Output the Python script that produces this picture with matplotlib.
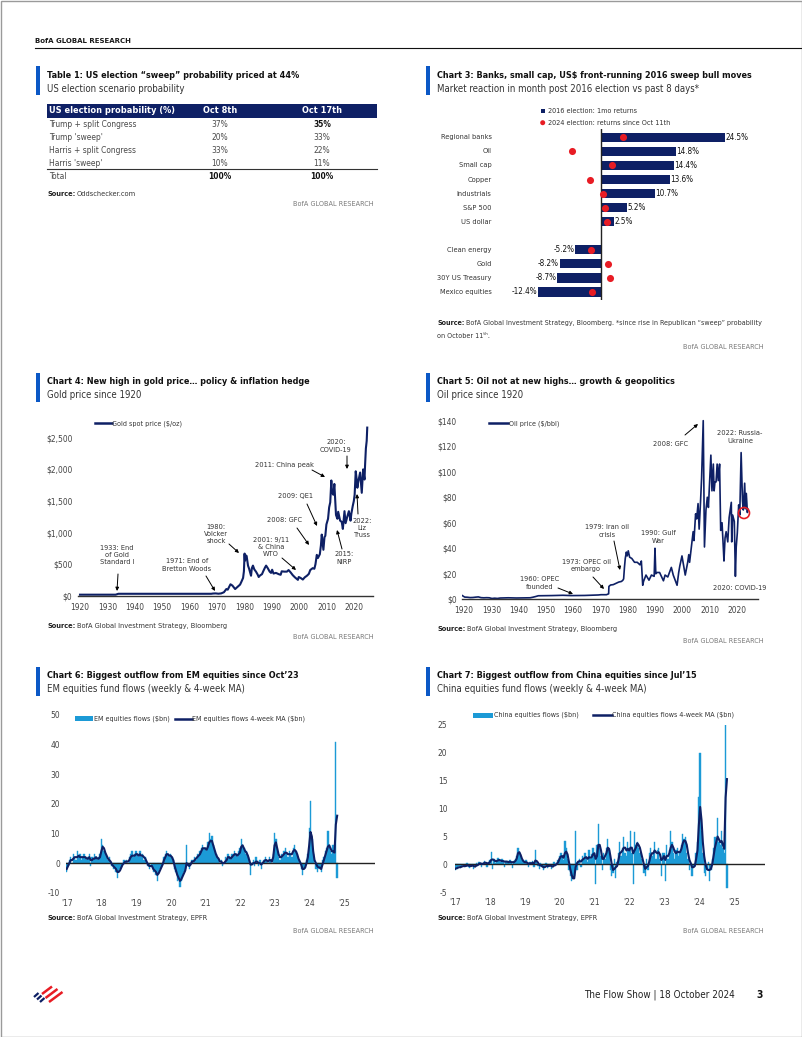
import matplotlib
matplotlib.use('Agg')
import matplotlib.pyplot as plt
from matplotlib.patches import Rectangle, Circle
import numpy as np

plt.rcParams['font.family'] = ['DejaVu Sans']
plt.rcParams['font.stretch'] = 'condensed'
plt.rcParams['axes.unicode_minus'] = False

# ---------------- data ----------------
# Table 1
scenarios = ['Trump + split Congress', "Trump 'sweep'", 'Harris + split Congress', "Harris 'sweep'"]
prob_oct8 = [37, 20, 33, 10]
prob_oct17 = [35, 33, 22, 11]
prob_total = [100, 100]

# Chart 3
assets = ['Regional banks', 'Oil', 'Small cap', 'Copper', 'Industrials', 'S&P 500', 'US dollar',
          'Clean energy', 'Gold', '30Y US Treasury', 'Mexico equities']
ret_2016 = [24.5, 14.8, 14.4, 13.6, 10.7, 5.2, 2.5, -5.2, -8.2, -8.7, -12.4]
ret_2024 = [4.3, -5.7, 2.1, -2.1, 0.3, 0.7, 1.1, -2.0, 1.4, 1.8, -1.7]
asset_rows = [0, 1, 2, 3, 4, 5, 6, 8, 9, 10, 11]

# Chart 4: gold spot price ($/oz), (year, price)
gold_points = [(1920, 20.7), (1933.0, 20.7), (1934.0, 35), (1967.9, 35), (1968.5, 39), (1969.5, 41),
               (1970.5, 36), (1971.5, 41), (1972.5, 59), (1973.4, 110), (1973.9, 100), (1974.9, 185),
               (1975.6, 165), (1976.6, 110), (1977.5, 145), (1978.4, 180), (1978.9, 226), (1979.5, 285),
               (1979.8, 390), (1980.05, 670), (1980.2, 560), (1980.6, 640), (1980.8, 630), (1981.3, 480),
               (1981.7, 430), (1982.4, 320), (1982.7, 440), (1983.1, 480), (1983.6, 420), (1984.2, 385),
               (1984.8, 340), (1985.2, 300), (1985.7, 325), (1986.4, 345), (1986.9, 395), (1987.5, 450),
               (1987.9, 480), (1988.5, 440), (1989.2, 385), (1989.7, 365), (1990.1, 415), (1990.6, 355),
               (1991.5, 365), (1992.5, 345), (1993.2, 335), (1993.6, 390), (1994.5, 385), (1995.5, 385),
               (1996.1, 410), (1996.9, 370), (1997.6, 330), (1998.4, 295), (1999.5, 255), (1999.8, 300),
               (2000.5, 285), (2001.3, 260), (2002.0, 295), (2002.8, 320), (2003.5, 350), (2004.0, 410),
               (2004.9, 440), (2005.5, 430), (2005.9, 500), (2006.4, 650), (2006.8, 600), (2007.5, 660),
               (2007.9, 800), (2008.2, 970), (2008.8, 730), (2009.2, 930), (2009.5, 950), (2009.9, 1130),
               (2010.5, 1220), (2010.9, 1400), (2011.3, 1480), (2011.7, 1825), (2011.9, 1640), (2012.4, 1600),
               (2012.8, 1770), (2013.4, 1280), (2013.9, 1220), (2014.2, 1330), (2014.9, 1190), (2015.5, 1170),
               (2015.9, 1060), (2016.5, 1340), (2016.9, 1150), (2017.5, 1250), (2018.1, 1340), (2018.7, 1190),
               (2019.0, 1300), (2019.5, 1420), (2019.9, 1500), (2020.2, 1600), (2020.6, 1970), (2020.9, 1860),
               (2021.2, 1710), (2021.5, 1800), (2022.2, 1950), (2022.8, 1630), (2023.3, 2000), (2023.8, 1840),
               (2024.0, 2060), (2024.3, 2330), (2024.6, 2450), (2024.8, 2660)]

# Chart 5: oil price ($/bbl), (year, price)
oil_points = [(1920, 3.07), (1921, 1.73), (1922, 1.61), (1923, 1.34), (1924, 1.43), (1925, 1.68),
              (1926, 1.88), (1927, 1.30), (1928, 1.17), (1929, 1.27), (1930, 1.19), (1931, 0.65),
              (1932, 0.87), (1933, 0.67), (1934, 1.00), (1937, 1.18), (1940, 1.02), (1945, 1.19),
              (1946, 1.63), (1947, 2.16), (1948, 2.77), (1953, 2.92), (1957, 3.14), (1960, 2.91),
              (1965, 3.01), (1970, 3.39), (1971, 3.60), (1973.0, 3.6), (1973.8, 4.3), (1973.9, 10.1),
              (1974.5, 11.2), (1975.5, 11.5), (1976.5, 12.5), (1977.5, 13.5), (1978.5, 14.0), (1979.0, 14.9),
              (1979.3, 16.0), (1979.6, 25.0), (1979.9, 32.0), (1980.3, 37.0), (1980.6, 34.0), (1981.0, 38.0),
              (1981.5, 33.0), (1982.3, 32.0), (1983.3, 29.0), (1984.3, 29.0), (1985.3, 27.0), (1985.8, 30.0),
              (1986.3, 11.0), (1986.6, 14.0), (1987.5, 19.0), (1988.6, 15.0), (1989.5, 19.0), (1990.5, 18.0),
              (1990.8, 40.0), (1991.1, 20.0), (1991.5, 21.0), (1992.5, 21.0), (1993.9, 14.5), (1994.5, 19.0),
              (1995.5, 17.5), (1996.8, 25.0), (1997.5, 19.0), (1998.9, 11.0), (1999.5, 21.0), (1999.9, 26.0),
              (2000.7, 34.0), (2001.9, 19.0), (2002.8, 29.0), (2003.2, 35.0), (2003.5, 29.0), (2004.8, 53.0),
              (2005.1, 46.0), (2005.7, 67.0), (2006.1, 63.0), (2006.6, 75.0), (2007.0, 55.0), (2007.5, 76.0),
              (2007.9, 95.0), (2008.5, 140.0), (2008.95, 41.0), (2009.5, 70.0), (2010.0, 80.0), (2010.4, 72.0),
              (2011.3, 113.0), (2011.7, 85.0), (2012.2, 106.0), (2012.5, 85.0), (2012.8, 92.0), (2013.2, 92.0),
              (2013.6, 106.0), (2014.0, 93.0), (2014.5, 106.0), (2014.9, 54.0), (2015.4, 60.0), (2015.95, 37.0),
              (2016.1, 30.0), (2016.5, 48.0), (2016.9, 53.0), (2017.5, 45.0), (2018.0, 64.0), (2018.8, 76.0),
              (2018.95, 45.0), (2019.3, 66.0), (2019.9, 61.0), (2020.3, 18.0), (2020.6, 41.0), (2021.0, 52.0),
              (2021.5, 74.0), (2021.9, 66.0), (2022.4, 115.0), (2022.9, 77.0), (2023.2, 70.0), (2023.7, 91.0),
              (2024.0, 71.0), (2024.3, 83.0), (2024.7, 68.0), (2024.8, 71.0)]

# Chart 6: EM equities flows ($bn), fortnightly from Jan 2017
em_flows = [
    -3, -1, 1, 2, 0, 3, 2, 1, 4, 2, 3, 1, 2, 3, 2, 1, 2, 3, -1, 2, 1, 3, 2, 1, 2, 3,
    8, 6, 4, 3, 2, 1, 2, 0, -1, -2, -1, -3, -5, -3, -2, -1, 0, 1, 0, 1, 0, 2, 3, 4, 2, 3,
    4, 3, 2, 4, 2, 3, 1, 2, 0, -1, -2, 0, -1, -3, -2, -4, -6, -3, -2, -1, 0, 2, 3, 4, 3, 2,
    3, 2, 1, -2, -3, -6, -5, -8, -6, -4, -3, -2, 6, -1, -2, 0, 1, 0, 2, 1, 3, 2, 4, 5, 6, 5,
    5, 4, 7, 10, 8, 9, 6, 4, 3, 2, 1, 0, 1, -1, 0, 2, 1, 3, 2, 1, 3, 2, 4, 3, 2, 4,
    5, 8, 6, 5, 3, 4, 2, 1, -4, 0, 1, -1, 2, 0, -1, 1, -2, 0, 1, 2, 1, 0, 2, 1, 0, 3,
    10, 8, 4, 2, 1, 3, 2, 4, 5, 3, 2, 4, 3, 2, 5, 6, 4, 2, 1, 0, -2, -4, -2, -1, 1, 3,
    12, 21, 8, 3, 0, -2, -3, -1, -2, -3, 1, 2, 4, 5, 11, 6, 4, 3, 6, 3, 41, -5]
em_ma = [
    -2, -1, 0, 1, 1, 1.5, 2, 2, 2, 2.5, 2, 2, 2, 2, 2, 1.5, 1.5, 2, 1, 1, 1.5, 1.5, 2, 1.5, 1.5, 2,
    4, 5.5, 5, 3.5, 2.5, 1.5, 1, 0.5, -0.5, -1, -1.5, -2, -3, -3, -2.5, -1.5, -0.5, 0, 0.5, 0.5, 0.5, 1, 2, 2.5, 2.5, 2.5,
    3, 3, 2.5, 3, 2.5, 2.5, 2, 1.5, 0.5, -0.5, -1, -1, -1, -2, -2.5, -3, -4, -3.5, -2.5, -1.5, -0.5, 1, 2, 3, 3, 2.5,
    2.5, 2, 1, -1, -2.5, -4, -5, -6, -5.5, -4.5, -3.5, -2.5, 0, -0.5, -1, -0.5, 0.5, 0.5, 1, 1.5, 2, 2.5, 3, 4, 5, 5,
    5, 4.5, 5.5, 7, 7.5, 7.5, 6, 4.5, 3, 2, 1.5, 0.5, 0.5, 0, 0, 0.5, 1, 2, 2, 1.5, 2, 2.5, 3, 3, 2.5, 3,
    3.5, 5.5, 6, 5, 4, 3.5, 2.5, 1, -0.5, -0.5, 0, 0, 0.5, 0.5, 0, 0, -0.5, 0, 0.5, 1, 1, 0.5, 1, 1, 0.5, 2,
    6, 7, 5, 3, 2, 2, 2.5, 3, 3.5, 3.5, 3, 3, 3, 3, 4, 4.5, 4, 3, 1.5, 0.5, -0.5, -2, -2, -1.5, 0, 2,
    6, 10.5, 9, 4, 1, 0, -1, -1.5, -1.5, -2, -0.5, 1, 2.5, 4, 5.5, 6, 5, 4, 4, 3.5, 13, 16]

# Chart 7: China equities flows ($bn), fortnightly from Jan 2017
cn_flows = [
    -1, -0.5, -0.8, -0.3, -0.6, -0.2, 0, -0.5, -0.3, 0.2, -0.4, -0.6, -0.2, 0, -0.8, -0.3, 0.3, -0.2, 0.5, 0.2, -0.5, 0.3, 0.6, 0.2, -0.4, 0.5,
    0.8, 2.3, -0.8, 1.0, 0.3, 0.6, 1.2, 0.8, 0.4, 0.9, 0.6, -0.5, 0.7, 0.5, 0.3, 0.8, 0.4, -0.6, 0.6, 0.9, 1.5, 3.0, 2.2, 1.5, 0.8, 0.5,
    0.3, 0.8, 0.2, -0.4, 0.5, 0.1, 0.6, -0.5, 2.5, 0.4, -0.3, -0.8, 0.2, -0.5, -1.0, -0.3, 0.2, -0.6, -0.2, 0.1, -0.8, -0.3, 0.4, -0.2, 0.3, 0.8,
    1.5, 2.0, 1.2, 0.8, 4.2, 3.0, 1.0, -1.0, -2.0, -3.0, -2.5, -2.0, 6.0, -1.0, 0.5, 1.0, -0.5, 1.5, 0.8, 2.0, 1.2, 0.5, 2.5, 1.0, 1.8, 3.0,
    2.0, -3.5, 3.5, 7.2, 3.0, 1.5, -1.0, 2.0, 1.0, 3.0, 4.5, 2.5, -1.0, -2.0, -1.5, 1.0, -2.5, 0.5, 2.0, 4.0, 1.5, 3.0, 5.0, 2.0, 1.5, 4.0,
    3.0, 6.0, 2.0, -3.5, 5.8, 3.5, 4.0, 3.0, 2.0, 1.0, 0.0, -1.5, -2.0, 1.0, -1.0, 2.0, 3.0, 1.5, 2.0, 4.0, 1.0, 2.5, 3.0, 1.0, -2.0, 2.0,
    2.0, -3.0, 3.5, 1.0, 2.5, 6.0, 4.0, 2.0, 1.0, 2.5, 3.0, 1.5, 2.0, 3.5, 5.5, 4.5, 5.0, 2.0, 1.0, -1.0, 0.5, -2.0, -0.5, 0.0, 2.0, 4.0,
    12.0, 20.0, 6.0, 2.0, -1.5, -2.0, -1.0, 0.5, -3.0, -1.0, 1.0, 3.0, 5.0, 4.0, 8.3, 4.0, 3.5, 6.0, 3.0, 2.0, 25.0, -4.3]
cn_ma = [
    -0.8, -0.7, -0.6, -0.5, -0.5, -0.4, -0.3, -0.3, -0.3, -0.2, -0.2, -0.3, -0.3, -0.2, -0.3, -0.4, -0.2, -0.1, 0.1, 0.2, 0.1, 0.1, 0.3, 0.3, 0.2, 0.2,
    0.4, 0.8, 0.9, 0.8, 0.6, 0.6, 0.7, 0.8, 0.7, 0.6, 0.6, 0.5, 0.5, 0.5, 0.4, 0.5, 0.4, 0.4, 0.4, 0.6, 1.0, 2.0, 2.2, 1.7, 1.0, 0.6,
    0.4, 0.4, 0.3, 0.1, 0.2, 0.2, 0.3, 0.2, 0.7, 0.6, 0.3, -0.1, -0.2, -0.3, -0.5, -0.5, -0.3, -0.3, -0.3, -0.2, -0.3, -0.4, -0.2, -0.1, 0.1, 0.4,
    1.0, 1.4, 1.5, 1.2, 2.0, 2.3, 1.8, 0.5, -0.8, -1.8, -2.5, -2.5, -0.5, 0.2, 0.5, 0.6, 0.5, 0.8, 1.0, 1.2, 1.3, 1.0, 1.3, 1.2, 1.3, 1.8,
    2.0, 1.0, 1.5, 3.5, 3.5, 2.5, 1.0, 1.0, 1.5, 2.0, 3.0, 2.8, 1.5, 0.0, -1.0, -0.8, -0.5, -0.3, 0.8, 2.0, 2.2, 2.5, 3.0, 3.0, 2.5, 2.8,
    2.5, 3.0, 3.0, 2.0, 2.5, 3.0, 3.8, 3.5, 3.0, 2.0, 1.0, 0.0, -0.8, -0.5, -0.3, 0.5, 1.5, 2.0, 2.0, 2.5, 2.2, 2.0, 2.2, 1.8, 0.8, 1.0,
    1.5, 0.8, 1.5, 1.5, 2.0, 3.0, 3.5, 3.0, 2.3, 2.0, 2.3, 2.2, 2.2, 2.8, 3.8, 4.3, 4.2, 3.5, 2.0, 0.8, 0.2, -0.5, -0.5, -0.3, 1.0, 2.5,
    7.0, 10.3, 8.0, 4.0, 1.5, 0.0, -0.8, -1.0, -1.0, -0.8, 0.0, 1.5, 3.0, 4.0, 5.0, 4.5, 4.0, 4.2, 3.5, 2.8, 12.0, 15.3]

flow_years = ["'17", "'18", "'19", "'20", "'21", "'22", "'23", "'24", "'25"]

# ---------------- style ----------------
W, H = 802, 1037
NAVY = '#0e2065'
ACCENT = '#0b58c6'
LIGHT = '#1c9ad6'
RED = '#e81c24'
DARK = '#222222'
GREY = '#4a4a4a'
TITLE, SUB, SRC, SMALL = 6.5, 6.9, 5.3, 5.2

fig = plt.figure(figsize=(W / 100, H / 100), dpi=100)


def box(x0, y0, x1, y1):
    # axes from a pixel box (origin top-left)
    return fig.add_axes([x0 / W, 1 - y1 / H, (x1 - x0) / W, (y1 - y0) / H])


ov = fig.add_axes([0, 0, 1, 1])
ov.set_xlim(0, W)
ov.set_ylim(H, 0)
ov.axis('off')
ov.set_zorder(10)
ov.patch.set_alpha(0)
renderer = fig.canvas.get_renderer()


def t(x, y, s, size=6.0, **kw):
    kw.setdefault('color', DARK)
    kw.setdefault('va', 'center')
    return ov.text(x, y, s, fontsize=size, **kw)


def heading(x, y, title, sub):
    ov.add_patch(Rectangle((x - 11.5, y - 9), 4, 29, color=ACCENT, lw=0))
    t(x, y, title, TITLE, fontweight='bold', color='#111')
    t(x, y + 13.5, sub, SUB, color='#333')


def source(x, y, rest, size=SRC):
    b = t(x, y, 'Source:', size, fontweight='bold')
    w = b.get_window_extent(renderer=renderer).width
    t(x + w + 1.5, y, rest, size, color='#333')


def bofa(x, y):
    t(x, y, 'BofA GLOBAL RESEARCH', SMALL, ha='right', color='#7a7a7a')


def arrow(x0, y0, x1, y1):
    ov.annotate('', xy=(x1, y1), xytext=(x0, y0),
                arrowprops=dict(arrowstyle='-|>', color='black', lw=0.7, mutation_scale=5,
                                shrinkA=0, shrinkB=0))


# page frame and header
ov.add_patch(Rectangle((0.5, 0.5), W - 1, H - 1, fill=False, ec='#9a9a9a', lw=1))
t(35, 41, 'BofA GLOBAL RESEARCH', 5.0, fontweight='bold', fontstretch='normal', color='#1a1a1a')
ov.plot([35, W], [48, 48], color='#111', lw=0.8)

# ---------------- Table 1 ----------------
heading(47, 75, 'Table 1: US election \u201csweep\u201d probability priced at 44%', 'US election scenario probability')
ov.add_patch(Rectangle((47, 103.5), 329.5, 14, color=NAVY, lw=0))
t(49, 110.5, 'US election probability (%)', 6.6, fontweight='bold', color='white')
t(220, 110.5, 'Oct 8th', 6.6, fontweight='bold', color='white', ha='center')
t(322, 110.5, 'Oct 17th', 6.6, fontweight='bold', color='white', ha='center')
for i, (name, a, b) in enumerate(zip(scenarios, prob_oct8, prob_oct17)):
    yy = 124.3 + 13 * i
    t(49, yy, name, 6.0, color=GREY)
    t(220, yy, f'{a}%', 6.0, color=GREY, ha='center')
    t(322, yy, f'{b}%', 6.0, color='#111' if i == 0 else GREY, ha='center',
      fontweight='bold' if i == 0 else 'normal')
ov.plot([47, 376.5], [169.3, 169.3], color='#333', lw=0.8)
t(49, 176.7, 'Total', 6.0, color=GREY)
t(220, 176.7, f'{prob_total[0]}%', 6.0, color='#111', ha='center', fontweight='bold')
t(322, 176.7, f'{prob_total[1]}%', 6.0, color='#111', ha='center', fontweight='bold')
source(47, 193.5, 'Oddschecker.com')
bofa(374, 204.5)

# ---------------- Chart 3 ----------------
heading(437, 75, 'Chart 3: Banks, small cap, US$ front-running 2016 sweep bull moves',
        'Market reaction in month post 2016 election vs past 8 days*')
ov.add_patch(Rectangle((540.5, 108.5), 4.5, 4.5, color=NAVY, lw=0))
t(547.5, 110.7, '2016 election: 1mo returns', SMALL, color='#333')
ov.add_patch(Circle((542.7, 122.7), 2.5, color=RED, lw=0))
t(547.5, 122.7, '2024 election: returns since Oct 11th', SMALL, color='#333')

ax3 = box(530, 128.9, 740, 300.4)
ax3.barh(asset_rows, ret_2016, height=0.66, color=NAVY, zorder=2)
ax3.axvline(0, color='#222', lw=1, zorder=3)
ax3.scatter(ret_2024, asset_rows, s=26, color=RED, zorder=4, lw=0)
ax3.set_xlim((530 - 601) / 5.06, (740 - 601) / 5.06)
ax3.set_ylim(11.6, -0.6)
ax3.axis('off')
for r, name, v in zip(asset_rows, assets, ret_2016):
    ax3.text(-0.1824, r, name, transform=ax3.get_yaxis_transform(), ha='right', va='center',
             fontsize=5.3, color='#333')
    if v >= 0:
        ax3.text(v + 0.1, r, f'{v}%', ha='left', va='center', fontsize=5.9, color='#111')
    else:
        ax3.text(v - 0.1, r, f'{v}%', ha='right', va='center', fontsize=5.9, color='#111')
source(437, 323.3, 'BofA Global Investment Strategy, Bloomberg. *since rise in Republican \u201csweep\u201d probability',
       size=5.15)
t(437, 335.7, 'on October 11\u1d57\u02b0.', 5.15, color='#333')
bofa(764, 346.7)

# ---------------- Chart 4: gold ----------------
heading(47, 382, 'Chart 4: New high in gold price\u2026 policy & inflation hedge', 'Gold price since 1920')
ax4 = box(78, 421.9, 373, 596)
gy, gp = zip(*gold_points)
ax4.plot(gy, gp, color=NAVY, lw=1.5, solid_joinstyle='round')
ax4.set_xlim(1919.27, 2026.9)
ax4.set_ylim(0, 2750)
ax4.set_xticks(range(1920, 2021, 10))
ax4.set_yticks(range(0, 2501, 500))
ax4.set_yticklabels(['$0', '$500', '$1,000', '$1,500', '$2,000', '$2,500'])
ax4.patch.set_alpha(0)
for s in ['top', 'right', 'left']:
    ax4.spines[s].set_visible(False)
ax4.spines['bottom'].set_color('#333')
ax4.spines['bottom'].set_linewidth(1)
ax4.tick_params(axis='both', length=0, labelsize=6.0, colors='#444')
ax4.tick_params(axis='y', pad=4)
ax4.tick_params(axis='x', pad=5)
ov.plot([95, 111.7], [423.3, 423.3], color=NAVY, lw=1.8)
t(112.5, 423.3, 'Gold spot price ($/oz)', 5.1, color='#333')
for (cx, cy, s) in [(117, 555, '1933: End\nof Gold\nStandard I'), (187, 565, '1971: End of\nBretton Woods'),
                    (216, 534, '1980:\nVolcker\nshock'), (271, 547, '2001: 9/11\n& China\nWTO'),
                    (285, 520, '2008: GFC'), (296, 496, '2009: QE1'), (284, 465, '2011: China peak'),
                    (336, 446, '2020:\nCOVID-19'), (344, 558, '2015:\nNIRP'), (362, 528, '2022:\nLiz\nTruss')]:
    t(cx, cy, s, 5.3, ha='center', color='#333', linespacing=1.25)
for a in [(118, 574, 117, 591), (206, 576, 215, 591), (229, 544, 239, 553), (282, 558, 296, 570),
          (297, 528, 309, 545), (307, 504, 317, 526), (312, 470, 325, 477), (347, 456, 347, 469),
          (342, 549, 337, 530), (358, 514, 357, 494)]:
    arrow(*a)
source(47, 626, 'BofA Global Investment Strategy, Bloomberg')
bofa(374, 637)

# ---------------- Chart 5: oil ----------------
heading(437, 382, 'Chart 5: Oil not at new highs\u2026 growth & geopolitics', 'Oil price since 1920')
ax5 = box(461.7, 414.3, 758.3, 599.3)
oy, op = zip(*oil_points)
ax5.plot(oy, op, color=NAVY, lw=1.2, solid_joinstyle='round')
ax5.set_xlim(1919.9, 2028.7)
ax5.set_ylim(0, 145)
ax5.set_xticks([y + 0.8 for y in range(1920, 2021, 10)])
ax5.set_xticklabels([str(y) for y in range(1920, 2021, 10)])
ax5.set_yticks(range(0, 141, 20))
ax5.set_yticklabels([f'${v}' for v in range(0, 141, 20)])
ax5.patch.set_alpha(0)
for s in ['top', 'right', 'left']:
    ax5.spines[s].set_visible(False)
ax5.spines['bottom'].set_color('#333')
ax5.spines['bottom'].set_linewidth(1)
ax5.tick_params(axis='both', length=0, labelsize=6.0, colors='#444')
ax5.tick_params(axis='y', pad=3.6)
ax5.tick_params(axis='x', pad=5)
ov.plot([489.3, 508.3], [423.3, 423.3], color=NAVY, lw=1.8)
t(509, 423.3, 'Oil price ($/bbl)', 5.1, color='#333')
for (cx, cy, s) in [(540, 583, '1960: OPEC\nfounded'), (586, 565.5, '1973: OPEC oil\nembargo'),
                    (607, 531, '1979: Iran oil\ncrisis'), (658, 537, '1990: Gulf\nWar'),
                    (671, 444, '2008: GFC'), (740, 437, '2022: Russia-\nUkraine'), (740, 588, '2020: COVID-19')]:
    t(cx, cy, s, 5.3, ha='center', color='#333', linespacing=1.25)
for a in [(558, 588, 573, 594), (593, 577, 604, 589), (614, 541, 620, 570), (685, 435, 698, 424)]:
    arrow(*a)
ov.add_patch(Circle((744, 513), 5.5, fill=False, ec=RED, lw=1.2))
source(437, 629.3, 'BofA Global Investment Strategy, Bloomberg')
bofa(764, 640.7)


# ---------------- Charts 6 & 7: fund flows ----------------
def flows_chart(ax, flows, ma, ylim, yticks, xlim):
    x = 2017 + np.arange(len(flows)) / 26
    xm = 2017 + np.arange(len(ma)) / 26
    ax.bar(x, flows, width=1 / 26, color=LIGHT, ec=LIGHT, lw=0.3, zorder=1)
    ax.axhline(0, color='#222', lw=1, zorder=2)
    ax.plot(xm, ma, color=NAVY, lw=1.5, zorder=3)
    ax.set_xlim(*xlim)
    ax.set_ylim(*ylim)
    ax.set_yticks(yticks)
    ax.set_xticks(range(2017, 2026))
    ax.set_xticklabels(flow_years)
    ax.patch.set_alpha(0)
    for s in ax.spines.values():
        s.set_visible(False)
    ax.tick_params(axis='both', length=0, labelsize=6.0, colors='#444')


heading(47, 675.5, 'Chart 6: Biggest outflow from EM equities since Oct\u201923', 'EM equities fund flows (weekly & 4-week MA)')
ax6 = box(66, 715, 375, 892.7)
flows_chart(ax6, em_flows, em_ma, (-10, 50), range(-10, 51, 10), (2016.98, 2025.9))
ax6.tick_params(axis='y', pad=4.3)
ax6.tick_params(axis='x', pad=4.3)
ov.add_patch(Rectangle((75, 716), 18.3, 5, color=LIGHT, lw=0))
t(94, 718.5, 'EM equities flows ($bn)', 5.1, color='#333')
ov.plot([175, 191.7], [718.5, 718.5], color=NAVY, lw=1.8)
t(192.5, 718.5, 'EM equities flows 4-week MA ($bn)', 5.1, color='#333')
source(47, 918, 'BofA Global Investment Strategy, EPFR')
bofa(374, 930.7)

heading(437, 675.5, 'Chart 7: Biggest outflow from China equities since Jul\u201915', 'China equities fund flows (weekly & 4-week MA)')
ax7 = box(455, 725, 765, 892.3)
flows_chart(ax7, cn_flows, cn_ma, (-5, 25), range(-5, 26, 5), (2017.0, 2025.9))
ax7.tick_params(axis='y', pad=5.5)
ax7.tick_params(axis='x', pad=3.9)
ov.add_patch(Rectangle((473.3, 712.5), 19.4, 5, color=LIGHT, lw=0))
t(493.5, 715, 'China equities flows ($bn)', 5.1, color='#333')
ov.plot([593.3, 611.7], [715, 715], color=NAVY, lw=1.8)
t(612.5, 715, 'China equities flows 4-week MA ($bn)', 5.1, color='#333')
source(437, 918, 'BofA Global Investment Strategy, EPFR')
bofa(764, 930.7)

# ---------------- footer ----------------
for (x0, y0, x1, y1) in [(34, 997, 38.5, 993), (37, 999.5, 41.5, 995.5), (40, 1002, 44.5, 998)]:
    ov.plot([x0, x1], [y0, y1], color=NAVY, lw=1.6, solid_capstyle='butt')
for (x0, y0, x1, y1) in [(42, 994, 52, 986.5), (45.5, 998, 57.5, 989), (49, 1002, 62.5, 992)]:
    ov.plot([x0, x1], [y0, y1], color=RED, lw=1.8, solid_capstyle='butt')
t(735, 995, 'The Flow Show | 18 October 2024', 7.1, ha='right', color='#222')
t(760, 995, '3', 7.4, ha='center', fontweight='bold', color='#111')

fig.savefig('out.png', dpi=100)
